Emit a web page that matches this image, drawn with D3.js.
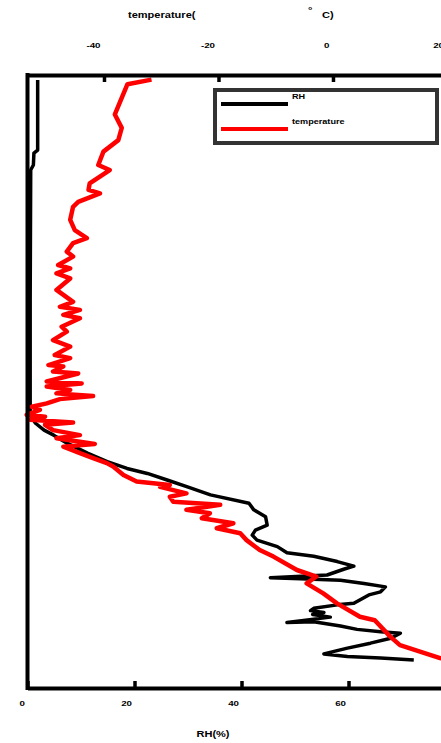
<!DOCTYPE html>
<html>
<head>
<meta charset="UTF-8">
<title>RH and temperature profile</title>
<style>
  body { margin: 0; background: #fff; }
  text { font-family: "Liberation Sans", Arial, sans-serif; font-weight: bold; fill: #000; }
</style>
</head>
<body>
<script src="https://d3js.org/d3.v7.min.js"></script>
<script>
// tick labels
const rhTicks = [0, 20, 40, 60, 80];
const tempTicks = [-40, -20, 0, 20];

// RH profile (height km, RH %)
const rhHeight = [15.87, 14.04, 13.96, 13.65, 13.52, 10.13, 7.13, 6.91, 6.73, 6.60, 6.39, 6.13, 5.91, 5.73, 5.60, 5.43,
  5.25, 5.04, 4.82, 4.65, 4.47, 4.25, 4.12, 3.99, 3.86, 3.69, 3.53, 3.44, 3.30, 3.18, 3.10, 2.95, 2.88, 2.85, 2.81, 2.73,
  2.64, 2.51, 2.43, 2.21, 2.17, 2.08, 2.02, 1.97, 1.92, 1.85, 1.71, 1.73, 1.62, 1.53, 1.47, 1.43, 1.30, 1.17, 1.04, 0.89,
  0.82, 0.78, 0.73];
const rhValues = [1.9, 1.9, 1.2, 1.1, 0.6, 0.5, 0.5, 1.5, 3.1, 4.9, 7.4, 11.2, 14.9, 18.6, 22.4, 26.1,
  29.9, 34.2, 41.4, 42.3, 44.5, 44.8, 42.6, 42.0, 42.9, 46.7, 48.5, 53.5, 57.9, 61.0, 59.1, 56.0, 45.4, 51.0, 58.5, 62.9,
  66.9, 66.0, 63.8, 61.0, 57.9, 53.5, 52.9, 55.4, 53.3, 56.6, 48.5, 53.5, 58.5, 61.6, 66.0, 69.7, 67.9, 64.1, 59.8, 55.4,
  59.8, 66.0, 72.2];

// temperature profile (height km, temperature °C)
const tHeight = [15.88, 15.76, 14.97, 14.62, 14.30, 14.00, 13.65, 13.52, 13.17, 13.00, 12.91, 12.69, 12.56, 12.22, 11.95,
  11.74, 11.61, 11.39, 11.26, 11.04, 10.95, 10.82, 10.69, 10.39, 10.08, 9.95, 9.87, 9.74, 9.65, 9.43, 9.30, 9.08, 8.91,
  8.69, 8.61, 8.43, 8.39, 8.26, 8.21, 8.00, 7.95, 7.87, 7.78, 7.69, 7.62, 7.54, 7.43, 7.34, 7.26, 7.13, 7.08, 7.00, 6.93,
  6.87, 6.73, 6.60, 6.52, 6.37, 6.30, 6.13, 6.00, 5.87, 5.78, 5.56, 5.39, 5.30, 5.25, 5.08, 4.99, 4.86, 4.78, 4.65, 4.56,
  4.43, 4.30, 4.17, 4.04, 3.86, 3.60, 3.43, 3.08, 2.91, 2.73, 2.47, 2.21, 1.86, 1.77, 1.34, 1.12, 0.95, 0.78, 0.68];
const tValues = [-31.7, -35.9, -38.1, -36.9, -37.5, -40.1, -41.0, -39.0, -42.5, -42.7, -40.7, -44.5, -45.4, -45.9, -45.1,
  -43.0, -45.4, -46.5, -45.4, -48.0, -45.9, -48.3, -45.9, -48.3, -45.4, -47.7, -44.2, -47.1, -44.2, -47.4, -46.5, -48.9, -45.9,
  -48.6, -45.9, -49.7, -47.1, -48.9, -44.5, -50.0, -43.9, -50.0, -45.9, -48.3, -41.9, -47.7, -50.0, -52.6, -51.2, -53.5, -50.3, -52.9, -45.4,
  -50.3, -48.9, -44.2, -48.3, -41.6, -47.1, -44.2, -41.9, -39.5, -38.4, -36.6, -34.3, -28.5, -30.2, -25.6, -28.5, -27.9, -19.7, -25.6, -21.5,
  -22.9, -17.4, -20.3, -16.2, -15.1, -12.8, -10.4, -6.3, -2.9, -4.6, -1.7, 0.7, 4.7, 7.3, 10.0, 11.7, 15.2, 18.7, 22.2];

const rhData = rhHeight.map((h, i) => ({h: h, v: rhValues[i]}));
const tData = tHeight.map((h, i) => ({h: h, v: tValues[i]}));

const width = 441, height = 743;
const mLeft = 27.5, mRight = 455.5, mTop = 75, mBottom = 688;
const sx = 1.3; // labels in the picture are stretched wide

const svg = d3.select("body").append("svg")
  .attr("width", width)
  .attr("height", height);

const x = d3.scaleLinear().domain([0, 80]).range([mLeft, mRight]);
const xT = d3.scaleLinear().domain([-53.36, 21.4]).range([mLeft, mRight]);
const y = d3.scaleLinear().domain([0, 16]).range([mBottom, mTop]);

// curves
const line = d3.line().x(d => d.px).y(d => y(d.h));

svg.append("path")
  .datum(rhData.map(d => ({h: d.h, px: x(d.v)})))
  .attr("fill", "none")
  .attr("stroke", "#000")
  .attr("stroke-width", 3.5)
  .attr("stroke-linejoin", "round")
  .attr("d", line);

svg.append("path")
  .datum(tData.map(d => ({h: d.h, px: xT(d.v)})))
  .attr("fill", "none")
  .attr("stroke", "#ff0000")
  .attr("stroke-width", 4.5)
  .attr("stroke-linejoin", "round")
  .attr("d", line);

// axes (plain hyphen for negatives, like the original)
const fmt = d => String(d);
const bottomAxis = svg.append("g")
  .attr("transform", `translate(0,${mBottom})`)
  .call(d3.axisBottom(x).tickValues(rhTicks).tickSize(-7).tickSizeOuter(0).tickFormat(fmt));

const topAxis = svg.append("g")
  .attr("transform", `translate(0,${mTop})`)
  .call(d3.axisTop(xT).tickValues(tempTicks).tickSize(-7).tickSizeOuter(0).tickFormat(fmt));

[bottomAxis, topAxis].forEach(g => {
  g.select(".domain").attr("stroke-width", 4).attr("stroke", "#000");
  g.selectAll(".tick line").attr("stroke-width", 3.5).attr("stroke", "#000");
  g.attr("font-family", null);
});
bottomAxis.selectAll(".tick text")
  .attr("x", 0).attr("y", 0).attr("dy", null)
  .attr("text-anchor", "end")
  .attr("font-size", 7.5)
  .attr("transform", `translate(-3,18) scale(${sx},1)`);
topAxis.selectAll(".tick text")
  .attr("x", 0).attr("y", 0).attr("dy", null)
  .attr("text-anchor", "end")
  .attr("font-size", 7.5)
  .attr("transform", `translate(-4,-27) scale(${sx},1)`);

svg.append("line")
  .attr("x1", mLeft).attr("x2", mLeft)
  .attr("y1", mTop - 2).attr("y2", mBottom + 2)
  .attr("stroke", "#000")
  .attr("stroke-width", 4);

// axis titles
function label(txt, px, py, size, anchor) {
  svg.append("text")
    .attr("transform", `translate(${px},${py}) scale(${sx},1)`)
    .attr("text-anchor", anchor || "start")
    .attr("font-size", size)
    .text(txt);
}
label("temperature(", 128, 18, 8.5);
label("°", 308, 13, 8.5);
label("C)", 322, 18, 8.5);
label("RH(%)", 213, 737, 8.5, "middle");

// legend
const legend = svg.append("g").attr("transform", "translate(215,90)");
legend.append("rect")
  .attr("width", 222).attr("height", 53)
  .attr("fill", "#fff")
  .attr("stroke", "#333")
  .attr("stroke-width", 4);
const legendItems = [{name: "RH", color: "#000"}, {name: "temperature", color: "#ff0000"}];
legendItems.forEach((d, i) => {
  legend.append("line")
    .attr("x1", 6).attr("x2", 73)
    .attr("y1", 14 + i * 25).attr("y2", 14 + i * 25)
    .attr("stroke", d.color)
    .attr("stroke-width", 4);
  legend.append("text")
    .attr("transform", `translate(77,${9 + i * 25}) scale(${sx},1)`)
    .attr("font-size", 7)
    .text(d.name);
});
</script>
</body>
</html>
